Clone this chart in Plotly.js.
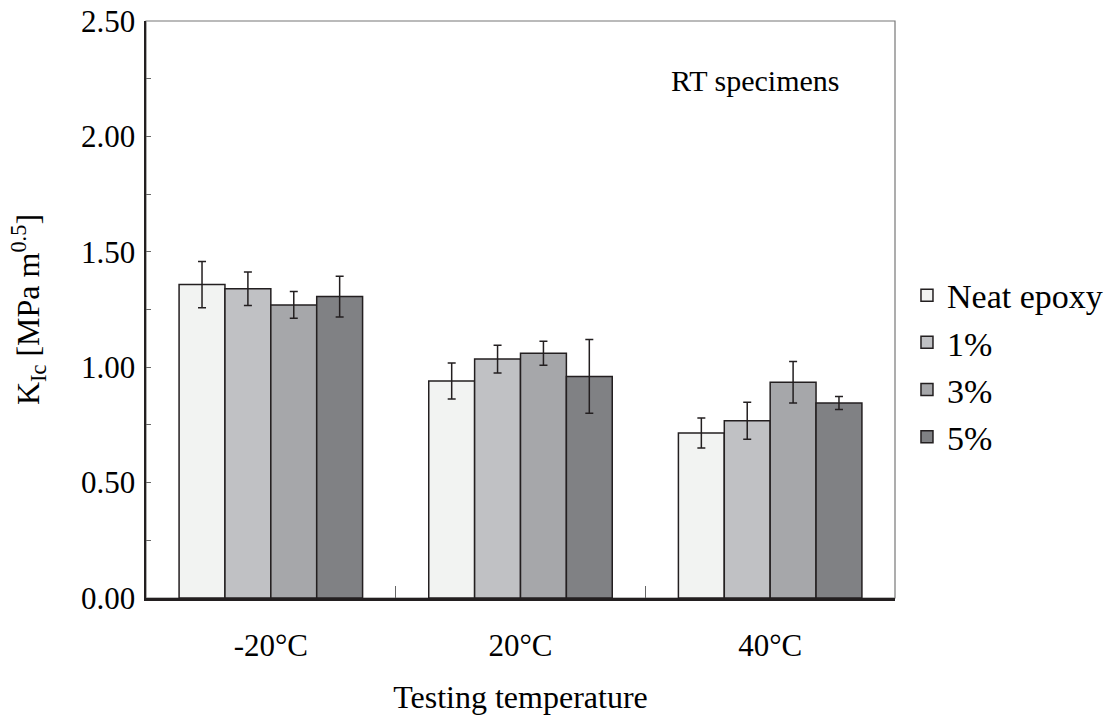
<!DOCTYPE html>
<html><head><meta charset="utf-8">
<script src="https://cdn.plot.ly/plotly-3.0.1.min.js"></script>
<style>html,body{margin:0;padding:0;background:#fff}#chart{width:1113px;height:719px}</style>
</head><body><div id="chart"></div>
<script>
const categories = ["-20°C", "20°C", "40°C"];
const seriesNames = ["Neat epoxy", "1%", "3%", "5%"];
const neatVals = [1.358, 0.940, 0.715];
const neatErr  = [0.100, 0.078, 0.065];
const p1Vals   = [1.340, 1.035, 0.768];
const p1Err    = [0.073, 0.060, 0.080];
const p3Vals   = [1.270, 1.060, 0.935];
const p3Err    = [0.058, 0.052, 0.090];
const p5Vals   = [1.306, 0.960, 0.845];
const p5Err    = [0.088, 0.160, 0.028];
const colors = ["#f2f3f2", "#c0c1c4", "#a6a7aa", "#808184"];

const vals = [neatVals, p1Vals, p3Vals, p5Vals];
const errs = [neatErr, p1Err, p3Err, p5Err];
const font = "Liberation Serif";

const data = vals.map((v, i) => ({
  type: "bar",
  name: seriesNames[i],
  x: categories,
  y: v,
  marker: {color: colors[i], line: {color: "#231f20", width: 1.5}},
  error_y: {type: "data", array: errs[i], visible: true, color: "#231f20", thickness: 1.5, width: 4}
}));

const layout = {
  width: 1113, height: 719,
  margin: {l: 146, r: 218, t: 21, b: 121, autoexpand: false},
  paper_bgcolor: "#fff", plot_bgcolor: "#fff",
  barmode: "group", bargap: 0.265, bargroupgap: 0,
  font: {family: font, color: "#000", size: 30},
  showlegend: true,
  legend: {x: 1.016, y: 0.402, xanchor: "left", yanchor: "middle",
    font: {family: font, size: 34, color: "#000"}, itemwidth: 30,
    bgcolor: "rgba(0,0,0,0)"},
  xaxis: {
    type: "category", showline: true, linecolor: "#231f20", linewidth: 2.5,
    ticks: "inside", tickson: "boundaries", ticklen: 12, tickcolor: "#666", tickwidth: 1,
    tickfont: {family: font, size: 31, color: "#000"}, ticklabelstandoff: 18,
    title: {text: "Testing temperature", font: {family: font, size: 32, color: "#000"}, standoff: 24},
    showgrid: false, zeroline: false
  },
  yaxis: {
    range: [0, 2.5], dtick: 0.5, tickformat: ".2f", showline: true, linecolor: "#231f20", linewidth: 2.5,
    ticks: "inside", ticklen: 5, tickcolor: "#666", tickwidth: 1,
    minor: {dtick: 0.25, ticks: "inside", ticklen: 5, tickcolor: "#666", tickwidth: 1, showgrid: false},
    tickfont: {family: font, size: 31, color: "#000"}, ticklabelstandoff: 2,
    title: {text: "K<sub>Ic</sub> [MPa m<sup>0.5</sup>]", font: {family: font, size: 32, color: "#000"}, standoff: 32},
    showgrid: false, zeroline: false
  },
  shapes: [{type: "rect", xref: "paper", yref: "paper", x0: 0, x1: 1, y0: 0, y1: 1,
    line: {color: "#777", width: 1.2}, fillcolor: "rgba(0,0,0,0)", layer: "below"}],
  annotations: [{text: "RT specimens", xref: "paper", yref: "paper", x: 0.813, y: 0.897,
    xanchor: "center", yanchor: "middle", showarrow: false, font: {family: font, size: 30, color: "#000"}}]
};

Plotly.newPlot("chart", data, layout, {displayModeBar: false, staticPlot: true});
</script></body></html>
